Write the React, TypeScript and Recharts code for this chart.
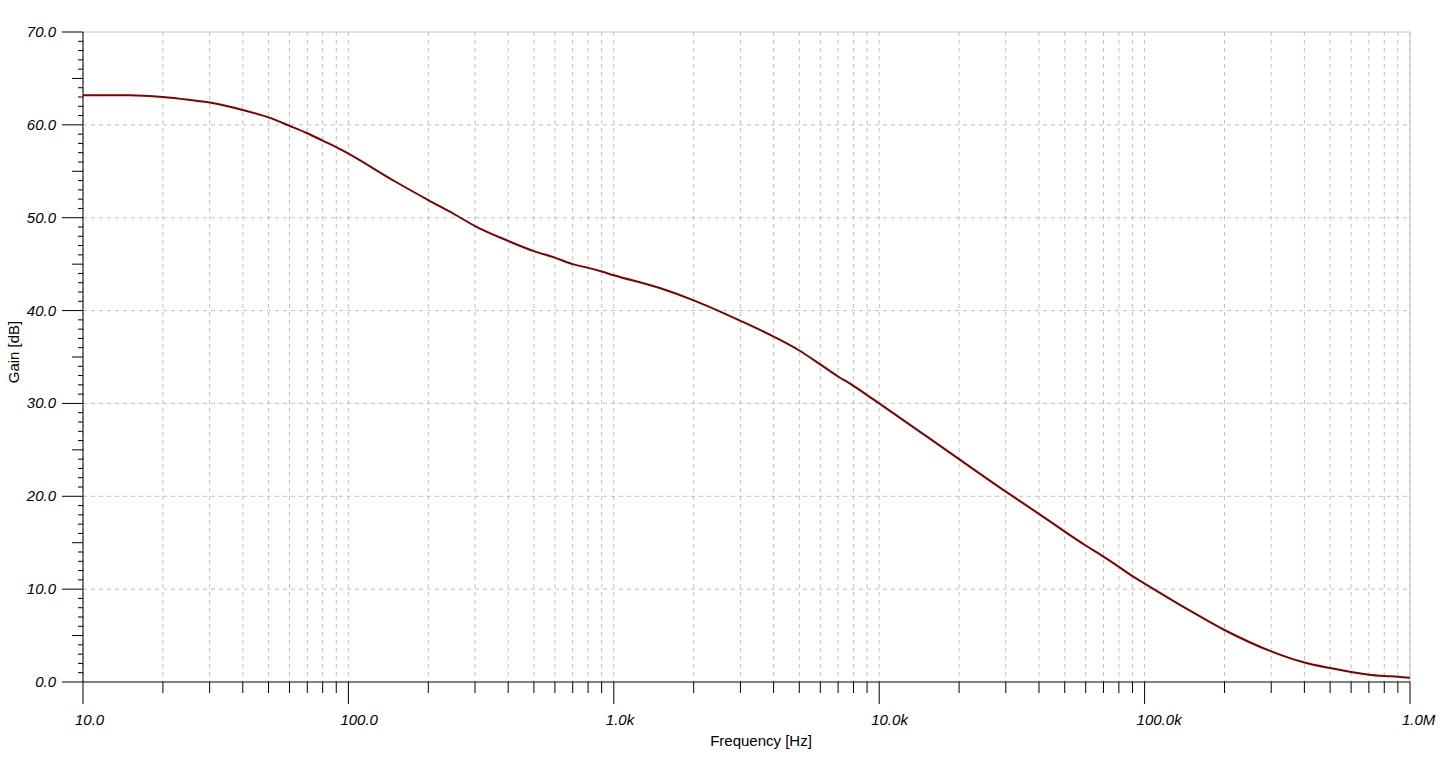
import React from "react";
import {
  LineChart,
  Line,
  XAxis,
  YAxis,
  CartesianGrid,
  ReferenceLine,
} from "recharts";

// Frequency (Hz) and gain (dB)
const frequencies = [
  10, 15, 20, 25, 30, 40, 50, 60, 70, 80, 90, 100, 150, 200, 250, 300, 400,
  500, 600, 700, 800, 900, 1000, 1500, 2000, 3000, 4000, 5000, 6000, 7000, 8000,
  9000, 10000, 15000, 20000, 30000, 40000, 50000, 60000, 70000, 80000, 90000,
  100000, 150000, 200000, 300000, 400000, 500000, 600000, 700000, 800000,
  900000, 1000000,
];
const gains = [
  63.2, 63.2, 63.0, 62.7, 62.4, 61.6, 60.8, 59.9, 59.1, 58.3, 57.6, 56.9, 53.9,
  51.9, 50.4, 49.1, 47.5, 46.4, 45.7, 45.0, 44.6, 44.2, 43.8, 42.4, 41.1,
  38.9, 37.2, 35.7, 34.2, 32.9, 31.9, 30.9, 30.0, 26.5, 24.0, 20.5, 18.1, 16.2,
  14.7, 13.5, 12.4, 11.4, 10.6, 7.6, 5.6, 3.3, 2.1, 1.5, 1.08, 0.79, 0.65,
  0.57, 0.46,
];

const xMajorTicks = [10, 100, 1000, 10000, 100000, 1000000];
const xTickLabels = ["10.0", "100.0", "1.0k", "10.0k", "100.0k", "1.0M"];
const yMajorTicks = [0, 10, 20, 30, 40, 50, 60, 70];
const yTickLabels = ["0.0", "10.0", "20.0", "30.0", "40.0", "50.0", "60.0", "70.0"];
const gridYValues = [10, 20, 30, 40, 50, 60];

const data = frequencies.map((f, i) => ({ f, gain: gains[i] }));

// all x ticks: decades plus 2..9 multiples
const xAllTicks: number[] = [];
xMajorTicks.forEach((m, i) => {
  xAllTicks.push(m);
  if (i < xMajorTicks.length - 1) {
    for (let k = 2; k <= 9; k++) xAllTicks.push(m * k);
  }
});
// all y ticks: every 1 dB
const yAllTicks: number[] = [];
for (let v = 0; v <= 70; v++) yAllTicks.push(v);

const FONT = "'Liberation Sans', Arial, sans-serif";

const XTick = (props: any) => {
  const { x, y, payload } = props;
  const v = payload.value;
  const idx = xMajorTicks.findIndex((m) => Math.abs(m - v) < 1e-6);
  const major = idx >= 0;
  return (
    <g>
      <line x1={x} x2={x} y1={y} y2={y + (major ? 22 : 11)} stroke="#000" strokeWidth={1} />
      {major && (
        <text
          x={x - 8}
          y={y + 43}
          textAnchor="start"
          fontStyle="italic"
          fontSize={15}
          fontFamily={FONT}
          fill="#000"
        >
          {xTickLabels[idx]}
        </text>
      )}
    </g>
  );
};

const YTick = (props: any) => {
  const { x, y, payload } = props;
  const v = payload.value;
  const idx = yMajorTicks.findIndex((m) => Math.abs(m - v) < 1e-6);
  const major = idx >= 0;
  const len = major ? 21 : v % 5 === 0 ? 11 : 5;
  return (
    <g>
      <line x1={x - len} x2={x} y1={y} y2={y} stroke="#000" strokeWidth={1} />
      {major && (
        <text
          x={x - 27}
          y={y + 5}
          textAnchor="end"
          fontStyle="italic"
          fontSize={15}
          fontFamily={FONT}
          fill="#000"
        >
          {yTickLabels[idx]}
        </text>
      )}
    </g>
  );
};

export default function App() {
  return (
    <div style={{ position: "fixed", left: 0, top: 0, width: 1440, height: 762, background: "#fff" }}>
      <LineChart
        width={1440}
        height={762}
        data={data}
        margin={{ top: 32, right: 30, bottom: 30, left: 23 }}
      >
        <CartesianGrid
          stroke="#c0c0c0"
          strokeDasharray="4 4"
          horizontalValues={gridYValues}
          verticalValues={xAllTicks}
        />
        <XAxis
          dataKey="f"
          type="number"
          scale="log"
          domain={[10, 1000000]}
          ticks={xAllTicks}
          interval={0}
          allowDataOverflow
          height={50}
          tickSize={0}
          tickMargin={0}
          tickLine={false}
          axisLine={{ stroke: "#000", strokeWidth: 1 }}
          tick={<XTick />}
        />
        <YAxis
          type="number"
          domain={[0, 70]}
          ticks={yAllTicks}
          interval={0}
          width={60}
          tickSize={0}
          tickMargin={0}
          tickLine={false}
          axisLine={{ stroke: "#000", strokeWidth: 1 }}
          tick={<YTick />}
        />
        <ReferenceLine y={70} stroke="#c0c0c0" strokeWidth={1} />
        <ReferenceLine x={1000000} stroke="#c0c0c0" strokeWidth={1} />
        <Line
          type="monotone"
          dataKey="gain"
          stroke="#800000"
          strokeWidth={2}
          dot={false}
          isAnimationActive={false}
        />
        <text x={761} y={746} textAnchor="middle" fontSize={15} fontFamily={FONT} fill="#000">
          Frequency [Hz]
        </text>
        <text
          x={19}
          y={352}
          textAnchor="middle"
          fontSize={15}
          fontFamily={FONT}
          fill="#000"
          transform="rotate(-90 19 352)"
        >
          Gain [dB]
        </text>
      </LineChart>
    </div>
  );
}
